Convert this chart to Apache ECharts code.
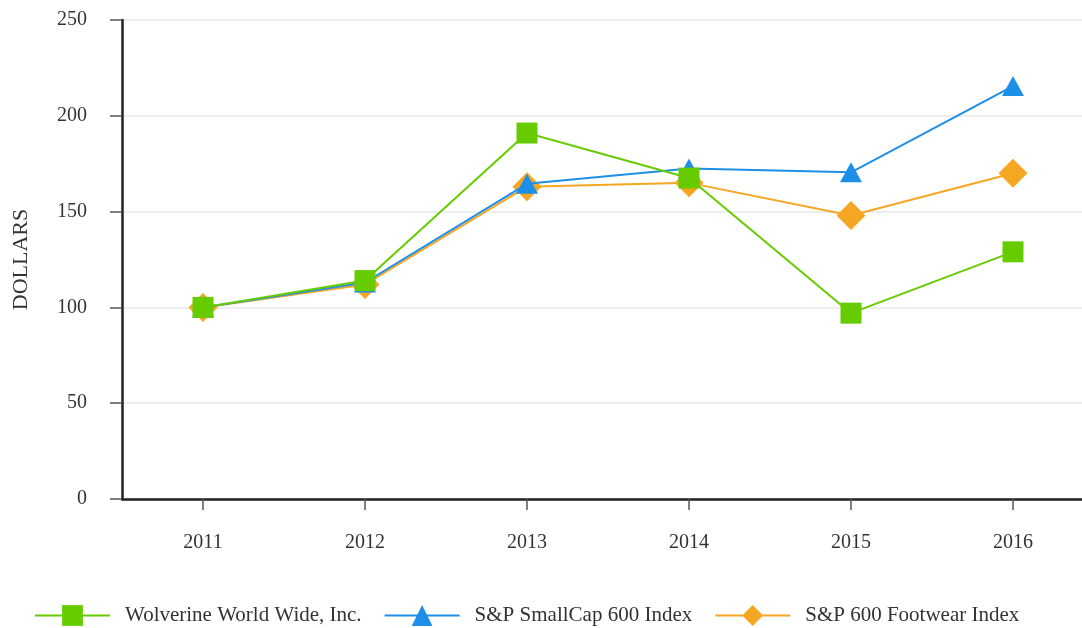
<!DOCTYPE html>
<html><head><meta charset="utf-8">
<script src="https://cdn.jsdelivr.net/npm/echarts@6/dist/echarts.min.js"></script>
<style>html,body{margin:0;padding:0;background:#fff}#c{width:1082px;height:628px}</style>
</head><body><div id="c"></div>
<script>
const years = ['2011','2012','2013','2014','2015','2016'];
const wolverine = [100, 114, 191, 167.5, 97, 129];
const smallCap = [100, 113, 164.5, 172.5, 170.5, 215.5];
const footwear = [100, 112, 163, 165, 148, 170];
const yTicks = [0, 50, 100, 150, 200, 250];

const yearNums = years.map(Number);
const pairs = arr => arr.map((v, i) => [yearNums[i], v]);
const font = 'Liberation Serif';
const chart = echarts.init(document.getElementById('c'));
chart.setOption({
  backgroundColor: '#fff',
  animation: false,
  textStyle: {fontFamily: font},
  grid: {left: 122, top: 20, bottom: 129, right: 0, containLabel: false},
  legend: {
    left: 29, top: 600, itemWidth: 75, itemHeight: 26, itemGap: 22,
    textStyle: {fontFamily: font, fontSize: 21, color: '#333', padding: [0,0,0,10]},
    data: ['Wolverine World Wide, Inc.', 'S&P SmallCap 600 Index', 'S&P 600 Footwear Index']
  },
  xAxis: {
    type: 'value', min: 2010.5, max: 2010.5 + 960 / 162,
    splitLine: {show: false},
    axisLine: {lineStyle: {color: '#222', width: 2.5}},
    axisTick: {show: true, length: 11, customValues: yearNums, lineStyle: {color: '#555', width: 1.5}},
    axisLabel: {fontFamily: font, fontSize: 20, color: '#333', margin: 34, customValues: yearNums,
      formatter: v => String(v)}
  },
  yAxis: {
    type: 'value', min: yTicks[0], max: yTicks[yTicks.length-1], interval: 50,
    name: 'DOLLARS', nameLocation: 'middle', nameGap: 90, nameRotate: 90,
    nameTextStyle: {fontFamily: font, fontSize: 22, color: '#333'},
    axisLine: {show: true, lineStyle: {color: '#222', width: 2.5}},
    axisTick: {show: true, length: 12, lineStyle: {color: '#555', width: 1.5}},
    axisLabel: {fontFamily: font, fontSize: 20, color: '#333', margin: 35},
    splitLine: {lineStyle: {color: '#e8e8e8', width: 1.5}}
  },
  series: [
    {name: 'Wolverine World Wide, Inc.', type: 'line', data: pairs(wolverine), z: 4,
     symbol: 'rect', symbolSize: 21, color: '#66cc00',
     lineStyle: {width: 2, color: '#66cc00'}, itemStyle: {color: '#66cc00'}},
    {name: 'S&P SmallCap 600 Index', type: 'line', data: pairs(smallCap), z: 3,
     symbol: 'triangle', symbolSize: [22, 20], color: '#1e8fe8',
     lineStyle: {width: 2, color: '#1e8fe8'}, itemStyle: {color: '#1e8fe8'}},
    {name: 'S&P 600 Footwear Index', type: 'line', data: pairs(footwear), z: 2,
     symbol: 'diamond', symbolSize: 29, color: '#f5a623',
     lineStyle: {width: 2, color: '#f5a623'}, itemStyle: {color: '#f5a623'}}
  ]
});
</script></body></html>
